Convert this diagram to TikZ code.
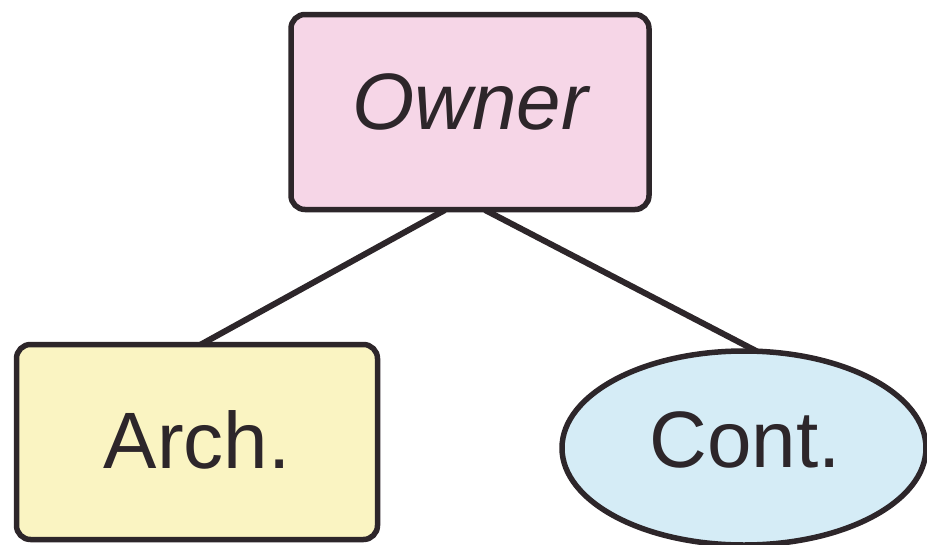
\documentclass[tikz,border=0pt]{standalone}
\usepackage{fontspec}
\setmainfont{Liberation Sans}
\usetikzlibrary{shapes.geometric}
\definecolor{edgecol}{RGB}{45,38,42}
\definecolor{ownerfill}{RGB}{246,214,231}
\definecolor{archfill}{RGB}{250,244,194}
\definecolor{contfill}{RGB}{213,236,246}
\tikzset{
  box/.style={draw=edgecol, line width=5.5pt, rounded corners=14pt, inner sep=0pt},
  label/.style={font=\fontsize{80}{90}\selectfont, text=edgecol},
  link/.style={draw=edgecol, line width=6pt}
}
\begin{document}
\begin{tikzpicture}[x=1pt,y=-1pt]
  \useasboundingbox (0,0) rectangle (927,544);
  % connectors first, so the nodes sit on top of them
  \coordinate (ol) at (445,210);
  \coordinate (or) at (485,210);
  \coordinate (al) at (200,345);
  \coordinate (cr) at (762,354);
  \draw[link] (ol) -- (al);
  \draw[link] (or) -- (cr);
  % Owner
  \node[box, fill=ownerfill, minimum width=358pt, minimum height=195pt] (owner) at (470,112) {};
  \node[label] (ownertxt) at (470,102) {\itshape Owner};
  % Arch.
  \node[box, fill=archfill, minimum width=361pt, minimum height=195pt] (arch) at (197,442) {};
  \node[label] (archtxt) at (197,440) {Arch.};
  % Cont.
  \node[draw=edgecol, line width=5.5pt, ellipse, fill=contfill, minimum width=364pt, minimum height=194pt, inner sep=0pt] (cont) at (744,448) {};
  \node[label] (conttxt) at (745,440) {Cont.};
\end{tikzpicture}
\end{document}
